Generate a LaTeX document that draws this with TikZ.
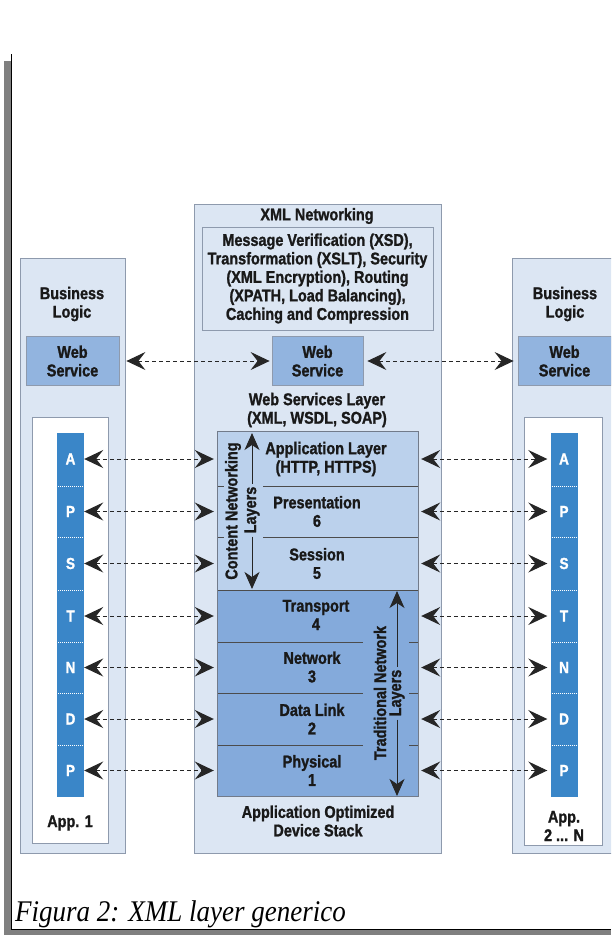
\documentclass[tikz,border=0pt]{standalone}
\usepackage{fontspec}
\setmainfont{Liberation Sans}[FakeStretch=0.85, BoldFeatures={FakeBold=1.3}]
\newfontfamily\capfont{Liberation Serif}[FakeStretch=0.9]
\usetikzlibrary{arrows.meta}
\definecolor{boxc}{HTML}{DCE6F3}
\definecolor{bordc}{HTML}{8E9AAD}
\definecolor{upc}{HTML}{BBD1EC}
\definecolor{lowc}{HTML}{84AADB}
\definecolor{barc}{HTML}{3A86C8}
\definecolor{wsc}{HTML}{92B4DF}
\definecolor{framegray}{HTML}{808080}
\begin{document}
\begin{tikzpicture}[x=1pt,y=-1pt,
  lbl/.style={font=\bfseries\fontsize{17}{18.5}\selectfont, align=center, inner sep=0pt, text=black!90},
  outerbox/.style={draw=bordc, fill=boxc, line width=0.8pt, anchor=north west, inner sep=0pt},
  whitebox/.style={draw=bordc, fill=white, line width=0.8pt, anchor=north west, inner sep=0pt},
  wsbox/.style={draw=bordc, fill=wsc, line width=0.8pt, minimum width=93pt, minimum height=49pt, inner sep=0pt, lbl},
  cell/.style={fill=barc, minimum width=27pt, inner sep=0pt, text=white, font=\bfseries\fontsize{16}{17}\selectfont},
  row/.style={minimum width=200pt, inner sep=0pt, lbl},
  bigtip/.tip={Stealth[length=19pt,width=18pt,inset=7pt]},
  dasharrow/.style={bigtip-bigtip, dash pattern=on 4pt off 3pt, line width=1pt, draw=black!85},
  vertarrow/.style={-{Stealth[length=17pt,width=15pt,inset=5pt]}, line width=1pt, draw=black!85},
  divider/.style={draw=black!70, line width=0.8pt}
]
\useasboundingbox (0,0) rectangle (611,935);
\clip (0,0) rectangle (611,935);
\fill[white] (0,0) rectangle (611,935);

% frame
\fill[framegray] (4,61) rectangle (11,935);
\fill[framegray] (4,930) rectangle (611,935);
\draw[black, line width=1pt] (11.5,54) -- (11.5,929.5) -- (611,929.5);

% caption
\node[anchor=base west, inner sep=0pt, font=\capfont\itshape\fontsize{30}{34}\selectfont] (cap) at (15,921) {Figura 2: XML layer generico};

% outer columns
\node[outerbox, minimum width=105pt, minimum height=595pt] (leftcol) at (20,258) {};
\node[outerbox, minimum width=247pt, minimum height=649pt] (midcol) at (194,204) {};
\node[outerbox, minimum width=110pt, minimum height=595pt] (rightcol) at (512,258) {};

% white boxes
\node[whitebox, minimum width=76pt, minimum height=426pt] (leftw) at (32,417) {};
\node[whitebox, minimum width=78pt, minimum height=428pt] (rightw) at (524,417) {};

% top texts
\node[lbl] (bl1) at (72,304) {Business\\Logic};
\node[lbl] (bl2) at (565,304) {Business\\Logic};
\node[lbl] (xmlnet) at (317,216) {XML Networking};
\node[draw=bordc, fill=boxc, line width=0.8pt, minimum width=231pt, minimum height=103pt, lbl] (feat) at (317.5,278.5)
  {Message Verification (XSD),\\Transformation (XSLT), Security\\(XML Encryption), Routing\\(XPATH, Load Balancing),\\Caching and Compression};

% web services
\node[wsbox] (wsl) at (72.5,361) {Web\\Service};
\node[wsbox, minimum width=91pt] (wsc) at (317.5,361) {Web\\Service};
\node[wsbox] (wsr) at (564.5,361) {Web\\Service};
\node[lbl] (wsl2) at (317,410) {Web Services Layer\\(XML, WSDL, SOAP)};

\draw[dasharrow, shorten <=7pt, shorten >=2pt] (wsl.east) -- (wsc.west);
\draw[dasharrow, shorten <=4pt, shorten >=4pt] (wsc.east) -- (wsr.west);

% stack rows
\node[row, fill=upc, minimum height=54pt] (r7) at (318,459) {};
\node[row, fill=upc, minimum height=51pt] (r6) at (318,511.5) {};
\node[row, fill=upc, minimum height=53pt] (r5) at (318,563.5) {};
\node[row, fill=lowc, minimum height=52pt] (r4) at (318,616) {};
\node[row, fill=lowc, minimum height=51pt] (r3) at (318,667.5) {};
\node[row, fill=lowc, minimum height=52pt] (r2) at (318,719) {};
\node[row, fill=lowc, minimum height=51pt] (r1) at (318,770.5) {};
\draw[draw=bordc!80!black, line width=0.8pt] (r7.north west) rectangle (r1.south east);

\node[lbl] (t7) at (326,459) {Application Layer\\(HTTP, HTTPS)};
\node[lbl] (t6) at (317,511.5) {Presentation\\6};
\node[lbl] (t5) at (317,563.5) {Session\\5};
\node[lbl] (t4) at (316,615) {Transport\\4};
\node[lbl] (t3) at (312,667) {Network\\3};
\node[lbl] (t2) at (312,719) {Data Link\\2};
\node[lbl] (t1) at (312,770.5) {Physical\\1};

% dividers
\foreach \yy in {486,537}{
  \draw[divider] (263,\yy) -- (418,\yy);
  \draw[divider] (218,\yy) -- (224,\yy);
}
\draw[divider] (218,590) -- (418,590);
\foreach \yy in {642,693,745}{
  \draw[divider] (218,\yy) -- (363,\yy);
  \draw[divider] (409,\yy) -- (418,\yy);
}

% content networking layers
\node[lbl, rotate=90] (cnl) at (233,511) {Content Networking};
\node[lbl, rotate=90, fill=upc, inner sep=1pt] (cnl2) at (252,510) {Layers};
\draw[vertarrow] (cnl2.east) ++(0,-2) -- (252,433);
\draw[vertarrow] (cnl2.west) ++(0,2) -- (252,589);

% traditional network layers
\node[lbl, rotate=90] (tnl) at (380,693) {Traditional Network};
\node[lbl, rotate=90, fill=lowc, inner sep=1pt] (tnl2) at (397,693) {Layers};
\draw[vertarrow] (tnl2.east) ++(0,-2) -- (397,591);
\draw[vertarrow] (tnl2.west) ++(0,2) -- (397,796);

% bars
\foreach \n/\l/\yc/\h in {a/A/459/53,p/P/511.5/51,s/S/563.5/53,t/T/616/52,n/N/667.5/51,d/D/719/52,q/P/770.5/52}{
  \node[cell, minimum height=\h pt] (L\n) at (70.5,\yc) {\l};
  \node[cell, minimum height=\h pt] (R\n) at (564,\yc) {\l};
}
\foreach \yy in {486,537,590,642,693,745}{
  \draw[white, line width=0.8pt, dash pattern=on 1pt off 1pt] (58,\yy) -- (83,\yy);
  \draw[white, line width=0.8pt, dash pattern=on 1pt off 1pt] (551.5,\yy) -- (576.5,\yy);
}

% layer arrows
\foreach \n/\r in {a/r7,p/r6,s/r5,t/r4,n/r3,d/r2,q/r1}{
  \draw[dasharrow, shorten >=4pt] (L\n.east) -- (\r.west);
  \draw[dasharrow, shorten <=3pt, shorten >=3pt] (\r.east) -- (R\n.west);
}

% bottom labels
\node[lbl] (app1) at (70,823) {App. 1};
\node[lbl] (app2) at (564,826) {App.\\2 ... N};
\node[lbl] (aods) at (318,821) {Application Optimized\\Device Stack};
\end{tikzpicture}
\end{document}
